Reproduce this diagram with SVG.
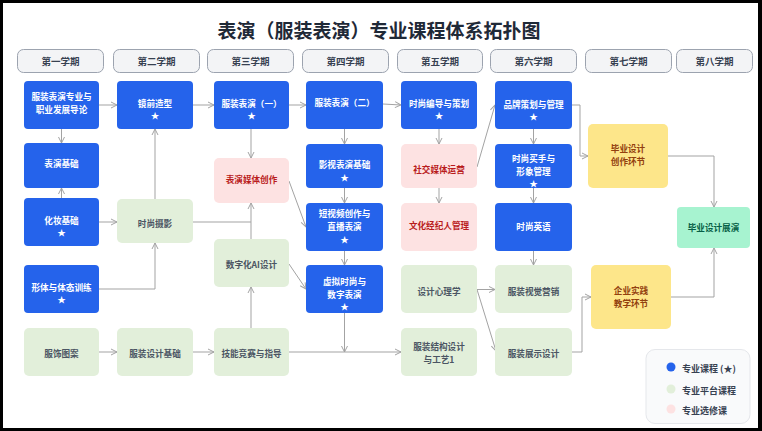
<svg xmlns="http://www.w3.org/2000/svg" width="762" height="431" viewBox="0 0 762 431">
<defs>
<style>
text{font-family:"Noto Sans CJK SC","Noto Sans",sans-serif;text-anchor:middle;dominant-baseline:central}
.title{font-size:19px;font-weight:700;fill:#1f2937}
.hdr rect{fill:#f3f4f6;stroke:#9ca3af;stroke-width:1}
.hdr text{font-size:9.5px;font-weight:700;fill:#374151}
.core rect{fill:#2563eb}
.core text{fill:#ffffff;font-size:8.6px;font-weight:700}
.plat rect{fill:#e2efda}
.plat text{fill:#4b5563;font-size:8.6px;font-weight:700}
.elec rect{fill:#fde2e2}
.elec text{fill:#b91c1c;font-size:8.6px;font-weight:700}
.prac rect{fill:#fde68a}
.prac text{fill:#92400e;font-size:8.6px;font-weight:700}
.grad rect{fill:#a7f3d0}
.grad text{fill:#065f46;font-size:8.6px;font-weight:700}
.star{font-size:7.5px}
#connectors path{fill:none;stroke:#a3a3a3;stroke-width:1}
.arr{marker-end:url(#ah)}
.legend text{text-anchor:start;font-size:9px;font-weight:700;fill:#374151}
</style>
<marker id="ah" viewBox="0 0 8 8" refX="7" refY="4" markerWidth="8" markerHeight="8" markerUnits="userSpaceOnUse" orient="auto">
<path d="M1,1 L7,4 L1,7" fill="none" stroke="#a3a3a3" stroke-width="1"/>
</marker>
</defs>
<rect x="0" y="0" width="762" height="431" fill="#000"/>
<rect x="3" y="3" width="755" height="425" fill="#fff"/>
<text class="title" x="379" y="29">表演（服装表演）专业课程体系拓扑图</text>

<g id="headers" class="hdr">
<g id="h1"><rect x="17.5" y="49.5" width="86" height="23" rx="6"/><text x="60.5" y="61">第一学期</text></g>
<g id="h2"><rect x="113.5" y="49.5" width="86" height="23" rx="6"/><text x="156.5" y="61">第二学期</text></g>
<g id="h3"><rect x="207.5" y="49.5" width="86" height="23" rx="6"/><text x="250.5" y="61">第三学期</text></g>
<g id="h4"><rect x="302.5" y="49.5" width="86" height="23" rx="6"/><text x="345.5" y="61">第四学期</text></g>
<g id="h5"><rect x="397.5" y="49.5" width="85" height="23" rx="6"/><text x="440" y="61">第五学期</text></g>
<g id="h6"><rect x="490.5" y="49.5" width="86" height="23" rx="6"/><text x="533.5" y="61">第六学期</text></g>
<g id="h7"><rect x="585.5" y="49.5" width="86" height="23" rx="6"/><text x="628.5" y="61">第七学期</text></g>
<g id="h8"><rect x="676.5" y="49.5" width="76" height="23" rx="6"/><text x="714.5" y="61">第八学期</text></g>
</g>

<g id="connectors">
<path class="arr" d="M99,105 H117"/>
<path class="arr" d="M61.5,129 V143"/>
<path class="arr" d="M61.5,198 V188"/>
<path class="arr" d="M99,222 H117"/>
<path class="arr" d="M155,199 V129"/>
<path d="M193,222 H251"/>
<path class="arr" d="M251,239 V203"/>
<path class="arr" d="M251,129 V158"/>
<path class="arr" d="M193,105 H214"/>
<path class="arr" d="M289,105 H306"/>
<path class="arr" d="M383,104 L401,105"/>
<path class="arr" d="M344.5,129 V144"/>
<path class="arr" d="M344.5,188 V203"/>
<path class="arr" d="M289,181 L306,227"/>
<path class="arr" d="M344.5,251 V265"/>
<path class="arr" d="M289,264 L306,289"/>
<path class="arr" d="M251,328 V287"/>
<path class="arr" d="M99,352 H117"/>
<path class="arr" d="M193,352 H214"/>
<path class="arr" d="M99,289 H155 V243"/>
<path class="arr" d="M289,352 H401"/>
<path class="arr" d="M344.5,313 V352"/>
<path class="arr" d="M439,129 V144"/>
<path class="arr" d="M439,188 V203"/>
<path class="arr" d="M477,167 L495,105"/>
<path class="arr" d="M533.5,129 V144"/>
<path class="arr" d="M572,105 H580 V156 H588"/>
<path class="arr" d="M533.5,188 V203"/>
<path class="arr" d="M533.5,251 V265"/>
<path class="arr" d="M477,289.5 H495"/>
<path class="arr" d="M477,289.5 L496,351"/>
<path class="arr" d="M572,352 H582 V297 H591"/>
<path class="arr" d="M668,156 H714 V207"/>
<path class="arr" d="M671,297 H714 V248"/>
</g>

<g id="n1" class="core"><rect x="24" y="81" width="75" height="48" rx="4"/><text x="61.5" y="96">服装表演专业与</text><text x="61.5" y="109">职业发展导论</text></g>
<g id="n2" class="core"><rect x="24" y="143" width="75" height="45" rx="4"/><text x="61.5" y="163">表演基础</text></g>
<g id="n3" class="core"><rect x="24" y="198" width="75" height="48" rx="4"/><text x="61.5" y="220">化妆基础</text><text class="star" x="61.5" y="232">★</text></g>
<g id="n4" class="core"><rect x="24" y="265" width="75" height="48" rx="4"/><text x="61.5" y="287">形体与体态训练</text><text class="star" x="61.5" y="299">★</text></g>
<g id="n5" class="plat"><rect x="24" y="328" width="75" height="48" rx="5"/><text x="61.5" y="353">服饰图案</text></g>

<g id="n6" class="core"><rect x="117" y="81" width="76" height="48" rx="4"/><text x="155" y="103">镜前造型</text><text class="star" x="155" y="115">★</text></g>
<g id="n7" class="plat"><rect x="117" y="199" width="76" height="44" rx="5"/><text x="155" y="222.5">时尚摄影</text></g>
<g id="n8" class="plat"><rect x="117" y="328" width="76" height="48" rx="5"/><text x="155" y="353">服装设计基础</text></g>

<g id="n9" class="core"><rect x="214" y="81" width="75" height="48" rx="4"/><text x="251.5" y="103">服装表演（一）</text><text class="star" x="251.5" y="115">★</text></g>
<g id="n10" class="elec"><rect x="214" y="158" width="75" height="45" rx="5"/><text x="251.5" y="179">表演媒体创作</text></g>
<g id="n11" class="plat"><rect x="214" y="239" width="75" height="48" rx="5"/><text x="251.5" y="264">数字化AI设计</text></g>
<g id="n12" class="plat"><rect x="214" y="328" width="75" height="48" rx="5"/><text x="251.5" y="353">技能竞赛与指导</text></g>

<g id="n13" class="core"><rect x="306" y="81" width="77" height="48" rx="4"/><text x="344.5" y="102">服装表演（二）</text></g>
<g id="n14" class="core"><rect x="306" y="144" width="77" height="44" rx="4"/><text x="344.5" y="164">影视表演基础</text><text class="star" x="344.5" y="176.5">★</text></g>
<g id="n15" class="core"><rect x="306" y="203" width="77" height="48" rx="4"/><text x="344.5" y="213">短视频创作与</text><text x="344.5" y="226">直播表演</text><text class="star" x="344.5" y="239">★</text></g>
<g id="n16" class="core"><rect x="306" y="265" width="77" height="48" rx="4"/><text x="344.5" y="281">虚拟时尚与</text><text x="344.5" y="294">数字表演</text><text class="star" x="344.5" y="306">★</text></g>

<g id="n17" class="core"><rect x="401" y="81" width="76" height="48" rx="4"/><text x="439" y="103">时尚编导与策划</text><text class="star" x="439" y="115">★</text></g>
<g id="n18" class="elec"><rect x="401" y="144" width="76" height="44" rx="5"/><text x="439" y="169">社交媒体运营</text></g>
<g id="n19" class="elec"><rect x="401" y="203" width="76" height="48" rx="5"/><text x="439" y="225">文化经纪人管理</text></g>
<g id="n20" class="plat"><rect x="401" y="265" width="76" height="48" rx="5"/><text x="439" y="290.5">设计心理学</text></g>
<g id="n21" class="plat"><rect x="401" y="328" width="76" height="48" rx="5"/><text x="439" y="346">服装结构设计</text><text x="439" y="359">与工艺1</text></g>

<g id="n22" class="core"><rect x="495" y="81" width="77" height="48" rx="4"/><text x="533.5" y="104">品牌策划与管理</text><text class="star" x="533.5" y="116">★</text></g>
<g id="n23" class="core"><rect x="495" y="144" width="77" height="44" rx="4"/><text x="533.5" y="158">时尚买手与</text><text x="533.5" y="171">形象管理</text><text class="star" x="533.5" y="183">★</text></g>
<g id="n24" class="core"><rect x="495" y="203" width="77" height="48" rx="4"/><text x="533.5" y="225.5">时尚英语</text></g>
<g id="n25" class="plat"><rect x="495" y="265" width="77" height="48" rx="5"/><text x="533.5" y="290.5">服装视觉营销</text></g>
<g id="n26" class="plat"><rect x="495" y="328" width="77" height="48" rx="5"/><text x="533.5" y="352.5">服装展示设计</text></g>

<g id="n27" class="prac"><rect x="588" y="124" width="80" height="64" rx="5"/><text x="628" y="148">毕业设计</text><text x="628" y="161">创作环节</text></g>
<g id="n28" class="prac"><rect x="591" y="265" width="80" height="64" rx="5"/><text x="631" y="290">企业实践</text><text x="631" y="303">教学环节</text></g>
<g id="n29" class="grad"><rect x="677" y="207" width="73" height="41" rx="4"/><text x="713.5" y="227">毕业设计展演</text></g>

<g id="legend" class="legend">
<rect x="646" y="349.5" width="104" height="74" rx="9" fill="#f9fafb" stroke="#e5e7eb" stroke-width="1"/>
<circle cx="671" cy="367" r="4.5" fill="#2563eb"/>
<circle cx="671" cy="389" r="4.5" fill="#e2efda"/>
<circle cx="671" cy="409" r="4.5" fill="#fde2e2"/>
<text x="682" y="368">专业课程 (★)</text>
<text x="682" y="390">专业平台课程</text>
<text x="682" y="410">专业选修课</text>
</g>
</svg>
